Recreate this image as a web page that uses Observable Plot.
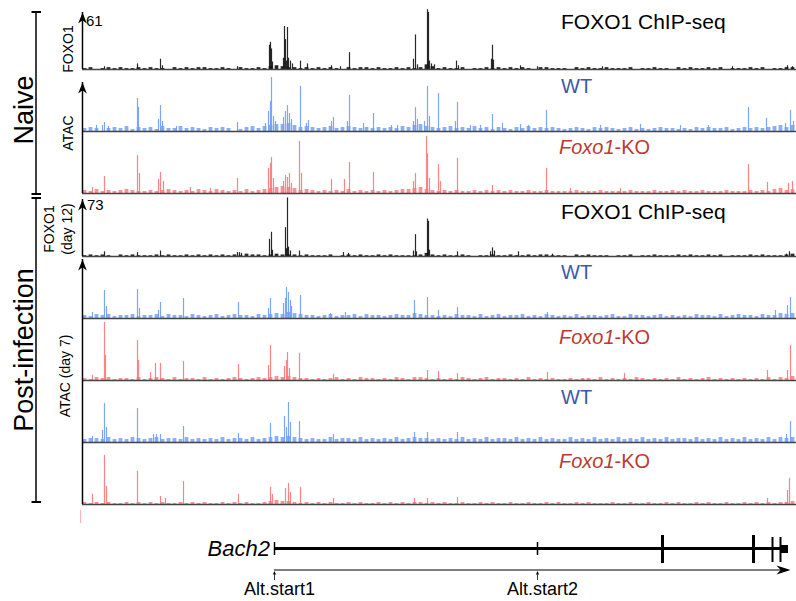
<!DOCTYPE html>
<html><head><meta charset="utf-8">
<script src="https://cdn.jsdelivr.net/npm/d3@7"></script>
<script src="https://cdn.jsdelivr.net/npm/@observablehq/plot@0.6"></script>
<style>
body{margin:0;background:#fff;}
#chart{position:relative;width:796px;height:601px;overflow:hidden;font-family:"Liberation Sans",Arial,Helvetica,sans-serif;background:#fff;}
#chart svg{position:absolute;left:0;}
</style></head><body><div id="chart"></div>
<script>
// ---------- data (positions in genome bins, 0..714) ----------
const foxoNaivePeaks = [[22,3],[55,6],[78,11],[80,4],[155,3],[187,26],[188,29],[189,22],[190,8],[201,12],[202,46],[203,32],[204,9],[205,45],[206,12],[208,9],[210,6],[218,9],[225,6],[249,4],[258,3],[267,18],[331,11],[333,37],[335,5],[345,64],[346,61],[347,9],[349,6],[352,5],[374,9],[376,4],[409,11],[410,26],[411,10],[438,4],[455,3],[520,3],[650,3],[705,4],[710,3]];
const wtNaivePeaks = [[14,6],[20,6],[22,9],[26,5],[55,33],[56,24],[76,12],[78,26],[80,10],[94,5],[155,9],[183,8],[186,20],[188,30],[189,54],[191,15],[193,10],[201,14],[203,20],[205,26],[207,18],[209,12],[218,45],[224,8],[226,11],[249,10],[251,14],[265,10],[267,36],[281,8],[291,18],[309,6],[315,6],[331,10],[333,24],[335,12],[342,10],[345,45],[347,15],[356,38],[373,10],[375,29],[388,6],[398,6],[410,17],[420,8],[438,7],[446,6],[464,21],[518,6],[558,7],[598,6],[626,6],[666,24],[684,13],[703,8],[708,21],[711,10]];
const koNaivePeaks = [[10,6],[22,17],[55,38],[57,20],[76,14],[78,21],[81,12],[108,6],[128,5],[155,15],[186,25],[188,30],[189,36],[191,15],[201,12],[203,18],[205,16],[207,20],[209,10],[217,52],[219,20],[249,14],[262,14],[267,31],[291,21],[331,12],[333,20],[344,57],[345,40],[347,15],[356,29],[358,12],[375,35],[410,8],[464,25],[488,5],[538,5],[666,29],[685,11],[706,10],[710,12]];
const foxoD12Peaks = [[22,6],[55,5],[78,7],[155,5],[157,5],[159,4],[187,22],[189,31],[190,8],[203,37],[204,10],[205,75],[206,12],[208,7],[217,7],[261,5],[266,4],[331,7],[333,28],[334,6],[345,48],[346,45],[347,8],[375,6],[408,6],[410,11],[412,7],[436,6],[470,3],[704,3],[707,6]];
const wtD7aPeaks = [[10,6],[22,28],[24,12],[55,29],[57,10],[76,8],[78,16],[101,20],[156,16],[186,10],[188,20],[201,15],[203,20],[204,31],[206,26],[208,18],[209,12],[218,23],[248,5],[263,6],[332,18],[345,21],[356,8],[375,11],[465,6],[693,8],[705,13],[708,21]];
const koD7aPeaks = [[10,5],[22,58],[23,25],[55,40],[56,20],[68,8],[73,17],[78,17],[101,19],[156,16],[186,15],[188,35],[202,14],[204,20],[205,28],[207,12],[217,27],[251,6],[345,10],[356,9],[375,7],[465,8],[542,7],[685,10],[705,10],[708,35]];
const wtD7bPeaks = [[10,6],[20,12],[22,39],[24,15],[55,34],[71,8],[74,8],[78,8],[101,16],[156,9],[188,19],[202,26],[204,15],[206,40],[208,20],[217,21],[251,8],[332,10],[345,10],[375,10],[704,8],[708,21]];
const koD7bPeaks = [[10,10],[22,49],[24,18],[55,33],[78,8],[83,6],[101,23],[156,10],[188,17],[190,10],[203,16],[206,21],[208,12],[218,17],[251,6],[332,6],[345,6],[375,7],[685,6],[705,14],[707,26]];

// background signal, one digit per 6-bin window (119 windows)
const foxoNaiveNoise = "1201212112"+"1211021212"+"2112102112"+"1343221212"+"1210212212"+"1121212531"+"2112011212"+"1212102211"+"1021211211"+"1201121102"+"1211212011"+"121201122";
const wtNaiveNoise   = "3430343524"+"3425335343"+"2434302453"+"5677864543"+"4534543434"+"3435467543"+"4534353424"+"3243534343"+"2343243432"+"3423234332"+"3243433423"+"434345646";
const koNaiveNoise   = "3242323432"+"2323432324"+"3243232423"+"4567653432"+"3232423232"+"3234456432"+"3232232323"+"2322322322"+"2232223222"+"2322232232"+"3223222322"+"232324534";
const foxoD12Noise   = "1212102121"+"1121211212"+"1212121322"+"1232221211"+"1201212112"+"1211112421"+"2112101121"+"1211212211"+"1021211101"+"1201121112"+"1211212011"+"121211123";
const wtD7aNoise     = "3243423342"+"3342433243"+"2342343324"+"3454654332"+"3423342433"+"2343354332"+"3243324234"+"2334232432"+"3242332342"+"2433234232"+"3243324234"+"332433545";
const koD7aNoise     = "2132312213"+"1232131221"+"3121232123"+"2343432212"+"1231213221"+"2132133212"+"1213212312"+"2121312121"+"1212213121"+"2132121213"+"1212312121"+"212131324";
const wtD7bNoise     = "3443534354"+"3453443534"+"3435344353"+"4565654343"+"3534435343"+"4353454434"+"3435343534"+"4353435343"+"3534353435"+"3435343534"+"4353435343"+"534353545";
const koD7bNoise     = "2121211212"+"1212112121"+"2112121211"+"2343321212"+"1211212112"+"1212122121"+"2112112121"+"1211211212"+"1121211121"+"1211211212"+"1121211211"+"212121223";

const axisMaxLabels = ["61", "73"];
const geneBody = [{start: 192, end: 706}];
const geneTicks = [{pos: 192}, {pos: 455}];
const exonsMajor = [{pos: 580}, {pos: 671}];
const exonsMinor = [{pos: 690}, {pos: 698}];
const lastExon = [{start: 698, end: 706}];
const altStarts = [{label: "Alt.start1", pos: 192}, {label: "Alt.start2", pos: 455}];

// ---------- styling / layout ----------
const BLUE = "#6e9cf8", RED = "#fb7878", BLACK = "#111";
const W = 796, X0 = 82, GENOME = 714, BIN = 6;
const FONT = '"Liberation Sans", Arial, Helvetica, sans-serif';
const chart = document.getElementById("chart");

function head(L, w, dir) {
  return {draw(ctx) {
    if (dir === "up") { ctx.moveTo(0,0); ctx.lineTo(w,L); ctx.lineTo(0,0.7*L); ctx.lineTo(-w,L); ctx.closePath(); }
    else { ctx.moveTo(0,0); ctx.lineTo(-L,-w); ctx.lineTo(-0.7*L,0); ctx.lineTo(-L,w); ctx.closePath(); }
  }};
}
const axisHead = head(11, 4.3, "up");

const tracks = [
  {peaks: foxoNaivePeaks, noise: foxoNaiveNoise, color: BLACK, baseline: 69,  span: 57, max: 61, arrow: true},
  {peaks: wtNaivePeaks,   noise: wtNaiveNoise,   color: BLUE,  baseline: 131, span: 49, max: 49, arrow: true},
  {peaks: koNaivePeaks,   noise: koNaiveNoise,   color: RED,   baseline: 193, span: 62, max: 62, arrow: false},
  {peaks: foxoD12Peaks,   noise: foxoD12Noise,   color: BLACK, baseline: 256, span: 57, max: 73, arrow: true},
  {peaks: wtD7aPeaks,     noise: wtD7aNoise,     color: BLUE,  baseline: 318, span: 59, max: 59, arrow: true},
  {peaks: koD7aPeaks,     noise: koD7aNoise,     color: RED,   baseline: 380, span: 62, max: 62, arrow: false},
  {peaks: wtD7bPeaks,     noise: wtD7bNoise,     color: BLUE,  baseline: 442, span: 62, max: 62, arrow: false},
  {peaks: koD7bPeaks,     noise: koD7bNoise,     color: RED,   baseline: 504, span: 62, max: 62, arrow: false}
];

const PAD = 14;
for (const t of tracks) {
  const noise = Array.from(t.noise, (c, i) => ({x1: i * BIN, x2: (i + 1) * BIN, v: +c}));
  const peaks = t.peaks.map(([pos, v]) => ({pos, v}));
  const svg = Plot.plot({
    width: W, height: t.span + PAD + 3,
    marginLeft: X0, marginRight: 0, marginTop: PAD, marginBottom: 3,
    style: {background: "transparent", overflow: "visible"},
    x: {domain: [0, GENOME], axis: null},
    y: {domain: [0, t.max], axis: null},
    marks: [
      Plot.rectY(noise, {x1: "x1", x2: "x2", y: "v", fill: t.color, fillOpacity: t.color === BLACK ? 0.9 : 0.8, insetLeft: 0.6, insetRight: 1.6}),
      Plot.ruleX(peaks, {x: "pos", y1: 0, y2: "v", stroke: t.color, strokeWidth: 1.2, strokeOpacity: 0.9}),
      Plot.ruleY([0], {stroke: "#444", strokeWidth: 1.5}),
      Plot.ruleX([{x: 0}], {x: "x", y1: 0, y2: t.max, stroke: "#000", strokeWidth: 1.5}),
      t.arrow ? Plot.dot([{x: 0, y: t.max}], {x: "x", y: "y", symbol: axisHead, r: 4, fill: "#000", stroke: "none"}) : null
    ]
  });
  svg.style.top = (t.baseline - t.span - PAD) + "px";
  chart.appendChild(svg);
}

// gene model
const geneSvg = Plot.plot({
  width: W, height: 96, marginLeft: X0, marginRight: 0, marginTop: 0, marginBottom: 0,
  style: {background: "transparent", overflow: "visible"},
  x: {domain: [0, GENOME], axis: null},
  y: {domain: [0, 96], range: [0, 96], axis: null},
  marks: [
    Plot.ruleX([{pos: -2}], {x: "pos", y1: 5, y2: 18, stroke: "#ffb4b4", strokeWidth: 1}),
    Plot.ruleY(geneBody, {x1: "start", x2: "end", y: 43, stroke: "#000", strokeWidth: 3}),
    Plot.ruleX(geneTicks, {x: "pos", y1: 37, y2: 50, stroke: "#000", strokeWidth: 1.5}),
    Plot.ruleX(exonsMajor, {x: "pos", y1: 30, y2: 58, stroke: "#000", strokeWidth: 3}),
    Plot.ruleX(exonsMinor, {x: "pos", y1: 32, y2: 57, stroke: "#000", strokeWidth: 2}),
    Plot.rect(lastExon, {x1: "start", x2: "end", y1: 40, y2: 48, fill: "#000"}),
    Plot.ruleY(geneBody, {x1: "start", x2: "end", y: 64.5, stroke: "#000", strokeWidth: 1.2}),
    Plot.dot(geneBody, {x: "end", y: 64.5, dx: 2, symbol: head(14, 4.5, "right"), r: 4, fill: "#000", stroke: "none"}),
    Plot.ruleX(altStarts, {x: "pos", y1: 68, y2: 75, stroke: "#000", strokeWidth: 0.8}),
    Plot.dot(altStarts, {x: "pos", y: 65.5, symbol: head(4, 1.8, "up"), r: 2, fill: "#000", stroke: "none"})
  ]
});
geneSvg.style.top = "505px";
chart.appendChild(geneSvg);
const gx = geneSvg.scale("x");

// ---------- annotations ----------
const ov = d3.select(chart).append("svg").attr("width", W).attr("height", 601)
  .style("top", "0px").style("pointer-events", "none").attr("font-family", FONT);

function bracket(y1, y2) {
  ov.append("line").attr("x1", 36).attr("x2", 36).attr("y1", y1).attr("y2", y2).attr("stroke", "#000").attr("stroke-width", 1.5);
  for (const y of [y1, y2]) ov.append("line").attr("x1", 31.5).attr("x2", 41).attr("y1", y).attr("y2", y).attr("stroke", "#000").attr("stroke-width", 2);
}
bracket(12, 194);
bracket(198, 502);

function vtext(x, y, s, size) {
  ov.append("text").attr("transform", `translate(${x},${y}) rotate(-90)`).attr("text-anchor", "middle")
    .attr("font-size", size).attr("fill", "#000").text(s);
}
vtext(33, 110, "Naive", 27);
vtext(33, 350, "Post-infection", 27);
vtext(73, 49, "FOXO1", 14);
vtext(73, 133, "ATAC", 14);
vtext(54, 229, "FOXO1", 14);
vtext(72, 229, "(day 12)", 14);
vtext(70, 376, "ATAC (day 7)", 14);

ov.append("text").attr("x", 86).attr("y", 26).attr("font-size", 15).text(axisMaxLabels[0]);
ov.append("text").attr("x", 87).attr("y", 210).attr("font-size", 15).text(axisMaxLabels[1]);

for (const y of [29, 219]) ov.append("text").attr("x", 561).attr("y", y).attr("font-size", 21).attr("fill", "#000").text("FOXO1 ChIP-seq");
for (const y of [93, 279, 404]) ov.append("text").attr("x", 561).attr("y", y).attr("font-size", 20).attr("fill", "#3b5aa9").text("WT");
for (const y of [154, 344, 468]) {
  const t = ov.append("text").attr("x", 559).attr("y", y).attr("font-size", 20).attr("fill", "#c0392f");
  t.append("tspan").attr("font-style", "italic").text("Foxo1");
  t.append("tspan").text("-KO");
}
ov.append("text").attr("x", gx.apply(geneBody[0].start) - 4).attr("y", 556).attr("text-anchor", "end")
  .attr("font-size", 22).attr("font-style", "italic").text("Bach2");
for (const a of altStarts) ov.append("text").attr("x", gx.apply(a.pos) - 30).attr("y", 595).attr("font-size", 18).text(a.label);
</script></body></html>
